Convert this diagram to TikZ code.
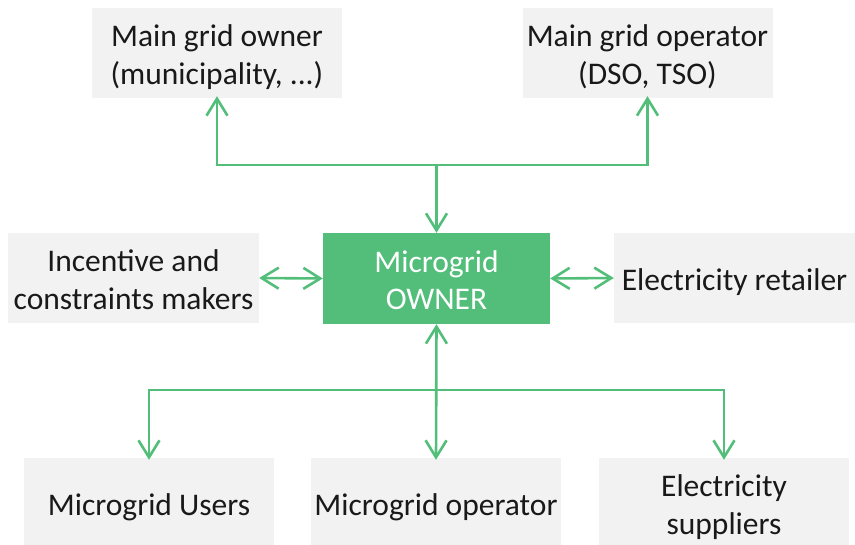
\documentclass[tikz,border=0pt]{standalone}
\usepackage{fontspec}
\setmainfont{Carlito}
\usetikzlibrary{arrows.meta}
\definecolor{mgreen}{HTML}{52BE7A}
\definecolor{mgray}{HTML}{F2F2F2}
\newcommand{\boxtext}[1]{\raisebox{-5pt}[\height][\depth]{\begin{tabular}{@{}c@{}}#1\end{tabular}}}
\begin{document}
\begin{tikzpicture}[x=1pt,y=-1pt,
  box/.style={fill=mgray,draw=none,minimum width=250pt,minimum height=90pt,inner sep=0pt,
    font=\fontsize{31.5}{37.5}\selectfont,text=black!90},
  ownbox/.style={box,fill=mgreen,text=white,minimum width=227pt,minimum height=91pt},
  conn/.style={draw=mgreen,line width=2.6pt,arrows={-Straight Barb[length=17pt,width=21pt,line width=2.6pt]}},
  conn2/.style={draw=mgreen,line width=2.6pt,arrows={Straight Barb[length=17pt,width=21pt,line width=2.6pt]-Straight Barb[length=17pt,width=21pt,line width=2.6pt]}}]
\useasboundingbox (0,0) rectangle (855,545);
\node[box] (mgo) at (217,53) {\boxtext{Main grid owner\\(municipality, ...)}};
\node[box] (mgop) at (647.5,53) {\boxtext{Main grid operator\\(DSO, TSO)}};
\node[box,minimum width=251pt] (inc) at (133.5,278) {\boxtext{Incentive and\\constraints makers}};
\node[ownbox] (own) at (436.5,278.5) {\boxtext{Microgrid\\OWNER}};
\node[box,minimum width=241pt] (ret) at (734.5,278) {\boxtext{Electricity retailer}};
\node[box] (users) at (149,503) {\boxtext{Microgrid Users}};
\node[box] (op) at (436,503) {\boxtext{Microgrid operator}};
\node[box] (sup) at (724,503) {\boxtext{Electricity\\suppliers}};
\coordinate (jt) at (436.5,165);
\coordinate (jb) at (436.5,390);
\draw[conn] (jt) -| ([yshift=2pt]mgo.south);
\draw[conn] (jt) -| ([yshift=2pt]mgop.south);
\draw[conn] (jt) -- (own.north);
\draw[conn2] (inc.east) -- (own.west);
\draw[conn2] (own.east) -- (ret.west);
\draw[conn2] ([yshift=-2pt]op.north) -- (own.south);
\draw[conn] (jb) -| ([yshift=-2pt]users.north);
\draw[conn] (jb) -| ([yshift=-2pt]sup.north);
\end{tikzpicture}
\end{document}
